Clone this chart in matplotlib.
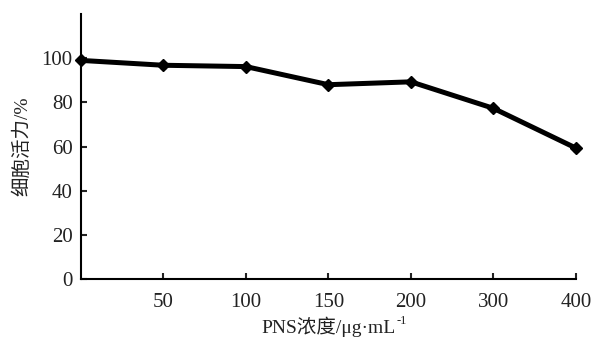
#!/usr/bin/env python
#-*- coding: utf-8 -*-
"""
Cell viability vs PNS concentration
"""
import matplotlib
matplotlib.use('Agg')
import numpy as np
import matplotlib.pyplot as plt

# data
doses = ['0', '50', '100', '150', '200', '300', '400']
viability = [99.0, 96.8, 96.2, 88.0, 89.3, 77.3, 59.3]
errors = [0.8, 1.2, 0.8, 1.0, 1.0, 1.2, 1.5]
yticks = [0, 20, 40, 60, 80, 100]

plt.rcParams['font.family'] = ['Liberation Serif', 'Noto Sans CJK SC']

def plot(fout='out.png'):
    fig = plt.figure(figsize=(5.95, 3.42), dpi=100)
    ax = fig.add_axes([0.136, 0.184, 0.832, 0.775])
    xpos = np.arange(len(doses))
    ax.errorbar(xpos, viability, yerr=errors, color='black', lw=3.6,
                marker='D', ms=6, elinewidth=1, capsize=2, clip_on=False,
                zorder=3)
    ax.set_xlim(0, len(doses) - 1)
    ax.set_ylim(0, 120)
    ax.set_xticks(xpos[1:])
    ax.set_xticklabels(doses[1:])
    ax.set_yticks(yticks)
    ax.spines['top'].set_visible(False)
    ax.spines['right'].set_visible(False)
    for sp in ('left', 'bottom'):
        ax.spines[sp].set_linewidth(1.5)
    ax.tick_params(direction='in', length=4, width=1.5, labelsize=15,
                   colors='#222222', pad=6)
    ax.tick_params(axis='x', pad=10)
    xl = ax.set_xlabel('PNS浓度/μg·mL', fontsize=14, labelpad=3,
                       color='#222222')
    # superscript -1 after the unit
    ax.annotate('-1', xy=(1, 1), xycoords=xl, xytext=(0.5, 1),
                textcoords='offset points', fontsize=9, va='top',
                ha='left', color='#222222')
    ax.set_ylabel('细胞活力/%', fontsize=14, labelpad=7, color='#222222')
    plt.savefig(fout, dpi=100)
    plt.close()

if __name__ == '__main__':
    plot()
